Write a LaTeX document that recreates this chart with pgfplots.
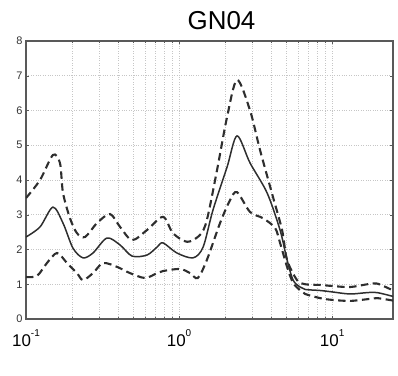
\documentclass[border=0pt]{standalone}
\usepackage{pgfplots}
\pgfplotsset{compat=1.18}
\usepackage{fontspec}
\setmainfont{Liberation Sans}
\newcommand{\tl}[1]{10\raisebox{1.1ex}{\fontsize{10}{10}\selectfont #1}}
\begin{document}
\begin{tikzpicture}
\path[use as bounding box] (-26bp,-57bp) rectangle (372bp,319bp);
\begin{axis}[
  scale only axis, width=367bp, height=278bp,
  xmode=log, xmin=0.1, xmax=25, ymin=0, ymax=8,
  ytick={0,1,...,8},
  xtick={0.1,1,10}, xticklabels={\tl{-1},\tl{0},\tl{1}},
  xticklabel style={font=\fontsize{17}{17}\selectfont, yshift=-7bp},
  yticklabel style={font=\fontsize{11}{11}\selectfont, text=black!80},
  /pgf/number format/assume math mode=true,
  grid=both,
  major grid style={gray!45, dotted, line width=0.8pt},
  minor grid style={gray!45, dotted, line width=0.8pt},
  ymajorgrids, yminorgrids=false,
  axis line style={gray!70!black, line width=1.1pt},
  tick style={gray!70!black},
  major tick length=3bp, minor tick length=2bp,
  title={GN04},
  title style={font=\fontsize{26}{26}\selectfont, yshift=2bp, xshift=12bp},
]
% upper dashed
\addplot[black!82, line width=2.1pt, dash pattern=on 7.5pt off 4.5pt, smooth, tension=0.5] coordinates {
(0.1,3.48) (0.1235,4.0) (0.150,4.72) (0.1667,4.49) (0.1745,3.63) (0.1939,2.9)
(0.2153,2.47) (0.2431,2.36) (0.2910,2.76) (0.354,3.02) (0.4116,2.65) (0.4935,2.27)
(0.6174,2.56) (0.7857,2.94) (0.9125,2.47) (1.13,2.22) (1.371,2.42) (1.52,2.85)
(1.772,4.29) (2.059,5.81) (2.393,6.88) (2.91,6.0) (3.383,4.86) (4.11,3.51)
(4.71,2.56) (5.08,1.7) (5.90,1.12) (6.67,1.0) (8.36,0.98) (10,0.95) (13.1,0.92)
(17,1.0) (19.7,1.02) (25,0.82)
};
% mean solid
\addplot[black!82, line width=1.5pt, smooth, tension=0.5] coordinates {
(0.1,2.36) (0.1235,2.65) (0.150,3.22) (0.1745,2.76) (0.2027,2.04) (0.2358,1.76)
(0.274,1.9) (0.3380,2.33) (0.4116,2.13) (0.4935,1.81) (0.6174,1.84) (0.7186,2.07)
(0.7857,2.19) (0.9676,1.9) (1.2345,1.76) (1.436,2.07) (1.667,3.14) (2.059,4.37)
(2.393,5.27) (2.91,4.49) (3.76,3.63) (4.57,2.56) (5.08,1.70) (5.56,1.12)
(6.18,0.92) (6.67,0.85) (8.36,0.82) (10,0.78) (13.1,0.72) (17,0.76) (19.7,0.76) (25,0.65)
};
% lower dashed
\addplot[black!82, line width=2.1pt, dash pattern=on 7.5pt off 4.5pt, smooth, tension=0.5] coordinates {
(0.1,1.21) (0.118,1.24) (0.137,1.61) (0.1595,1.9) (0.1854,1.61) (0.2153,1.32)
(0.2358,1.12) (0.274,1.32) (0.3186,1.61) (0.3933,1.5) (0.4785,1.32) (0.5996,1.18)
(0.7186,1.32) (0.7857,1.38) (1.015,1.44) (1.18,1.32) (1.326,1.18) (1.52,1.7)
(1.853,2.76) (2.154,3.42) (2.393,3.65) (2.91,3.08) (3.54,2.9) (4.24,2.62)
(4.57,2.19) (5.08,1.5) (5.56,1.04) (6.18,0.83) (6.67,0.72) (8.36,0.6) (10,0.55)
(13.1,0.52) (17,0.57) (19.7,0.6) (25,0.53)
};
\end{axis}
\end{tikzpicture}
\end{document}
